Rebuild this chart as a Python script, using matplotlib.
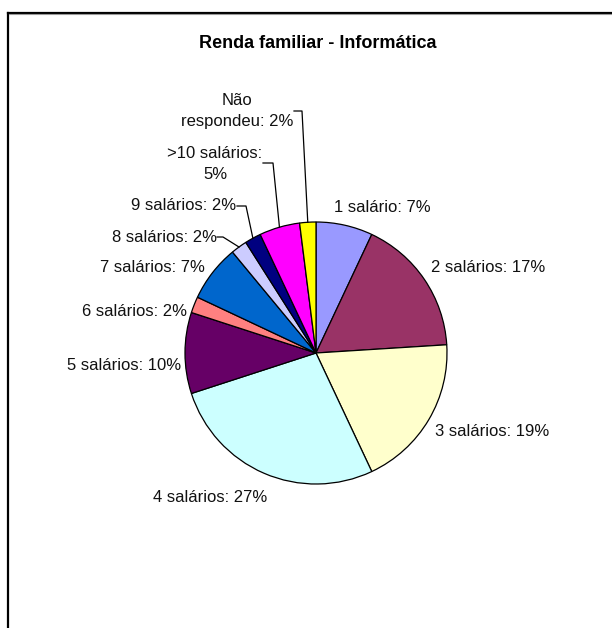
import numpy as np
import matplotlib
matplotlib.use("Agg")
import matplotlib.pyplot as plt

plt.rcParams['font.family'] = ['Liberation Sans', 'DejaVu Sans']

# data
categorias = ['1 salário', '2 salários', '3 salários', '4 salários', '5 salários',
              '6 salários', '7 salários', '8 salários', '9 salários',
              '>10 salários', 'Não respondeu']
percentuais = [7, 17, 19, 27, 10, 2, 7, 2, 2, 5, 2]
cores = ['#9999FF', '#993366', '#FFFFCC', '#CCFFFF', '#660066', '#FF8080',
         '#0066CC', '#CCCCFF', '#000080', '#FF00FF', '#FFFF00']
rotulos = ['1 salário: 7%', '2 salários: 17%', '3 salários: 19%', '4 salários: 27%',
           '5 salários: 10%', '6 salários: 2%', '7 salários: 7%', '8 salários: 2%',
           '9 salários: 2%', '>10 salários:\n5%', 'Não\nrespondeu: 2%']

# layout (pixel coords, y downwards)
W, H = 612, 628
centro = (316, 353)
raio = 131
pos_rotulos = [(382, 208), (488, 268), (492, 432), (210, 497), (124, 365),
               (134, 312), (152, 268), (165, 237), (184, 206), (215, 164), (237, 111)]
# leader lines: index -> (x text end, x elbow, y)
guias = {7: (217, 223, 237), 8: (237, 246, 206), 9: (263, 273, 163), 10: (294, 302, 111)}

fig = plt.figure(figsize=(W / 100, H / 100), dpi=100)
ax = fig.add_axes([0, 0, 1, 1])

wedges, _ = ax.pie(percentuais, colors=cores, center=centro, radius=raio,
                   startangle=270, counterclock=True, frame=True,
                   wedgeprops=dict(edgecolor='black', linewidth=0.9))
ax.set_xlim(0, W)
ax.set_ylim(H, 0)
ax.axis('off')

for i, (txt, (x, y)) in enumerate(zip(rotulos, pos_rotulos)):
    ax.text(x, y, txt, ha='center', va='center', multialignment='center',
            fontsize=12, linespacing=1.45, color='#111111')

for i, (x0, x1, y) in guias.items():
    w = wedges[i]
    meio = np.deg2rad((w.theta1 + w.theta2) / 2)
    xr = centro[0] + raio * np.cos(meio)
    yr = centro[1] + raio * np.sin(meio)
    ax.plot([x0, x1, xr], [y, y, yr], color='black', lw=0.9)

ax.text(317.5, 44, 'Renda familiar - Informática', ha='center', va='center',
        fontsize=13, fontweight='bold')

# chart border (clipped at right/bottom)
ax.plot([8, W + 5], [12.5, 12.5], color='black', lw=1.6, clip_on=False)
ax.plot([8, 8], [12.5, H + 5], color='black', lw=1.6, clip_on=False)
ax.plot([9, W + 5], [14, 14], color='#999999', lw=0.8, clip_on=False)

fig.savefig('out.png', dpi=100)
